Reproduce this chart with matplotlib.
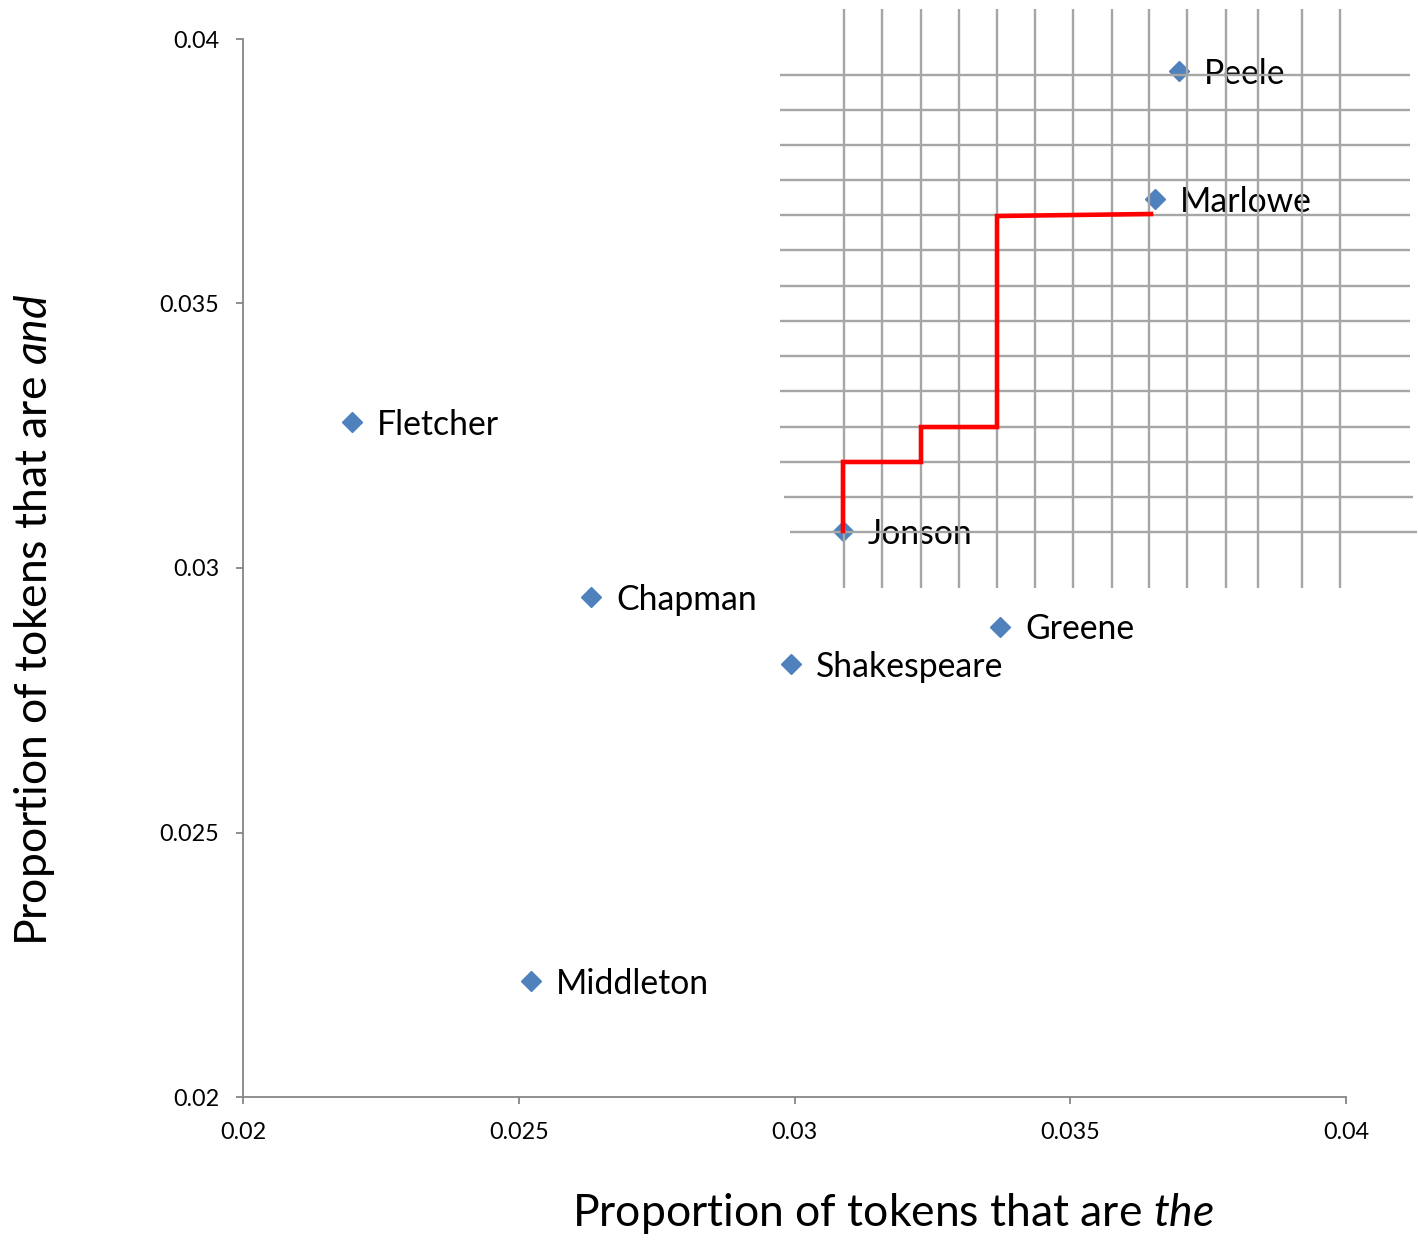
import matplotlib
matplotlib.use("Agg")
import matplotlib.pyplot as plt

plt.rcParams['font.family'] = ['Lato', 'DejaVu Sans']
plt.rcParams['mathtext.fontset'] = 'custom'
plt.rcParams['mathtext.rm'] = 'Lato'
plt.rcParams['mathtext.it'] = 'Lato:italic'

# ---- data ----
authors = ["Fletcher", "Chapman", "Shakespeare", "Greene", "Middleton",
           "Jonson", "Marlowe", "Peele"]
prop_the = [0.02198, 0.02631, 0.02994, 0.03373, 0.02522, 0.03088, 0.03654, 0.03697]
prop_and = [0.03276, 0.02945, 0.02819, 0.02889, 0.02219, 0.03070, 0.03698, 0.03940]

x_ticks = [0.02, 0.025, 0.03, 0.035, 0.04]
y_ticks = [0.02, 0.025, 0.03, 0.035, 0.04]
x_tick_labels = ["0.02", "0.025", "0.03", "0.035", "0.04"]
y_tick_labels = ["0.02", "0.025", "0.03", "0.035", "0.04"]

# overlay grid (data coords)
grid_x = [0.030897, 0.031586, 0.032294, 0.032983, 0.033672, 0.034361, 0.035050,
          0.035757, 0.036428, 0.037117, 0.037824, 0.038404, 0.039202, 0.039891]
grid_y = [0.039325, 0.038658, 0.037991, 0.037335, 0.036673, 0.036011, 0.035336,
          0.034675, 0.034002, 0.033352, 0.032671, 0.032009, 0.031348, 0.030686]
grid_x_span = (0.029622, 0.040567)   # vertical lines y-extent
grid_y_start = [0.029737] * 12 + [0.029810, 0.029920]
grid_y_end = [0.041160] * 12 + [0.041215, 0.041290]

# red staircase path
path_x = [0.030879, 0.030879, 0.032294, 0.032294, 0.033672, 0.033672, 0.036464]
path_y = [0.030699, 0.032004, 0.032004, 0.032665, 0.032665, 0.036654, 0.036692]

W, H = 1418, 1240
fig = plt.figure(figsize=(W / 100, H / 100), dpi=100)
ax = fig.add_axes([243 / W, 1 - 1097 / H, (1346 - 243) / W, (1097 - 39) / H])
ax.set_xlim(0.02, 0.04)
ax.set_ylim(0.02, 0.04)

ax.plot(prop_the, prop_and, linestyle='none', marker='D', markersize=10,
        color='#4F81BD', zorder=3, clip_on=False)
for name, xv, yv in zip(authors, prop_the, prop_and):
    ax.annotate(name, (xv, yv), xytext=(18, -2), textcoords='offset points',
                va='center', ha='left', fontsize=24.3, color='black', zorder=4)

# overlay grid
for gx in grid_x:
    ax.plot([gx, gx], list(grid_x_span), color='#A6A6A6', lw=1.7,
            zorder=5, clip_on=False, solid_capstyle='butt')
for gy, s, e in zip(grid_y, grid_y_start, grid_y_end):
    ax.plot([s, e], [gy, gy], color='#A6A6A6', lw=1.7,
            zorder=5, clip_on=False, solid_capstyle='butt')
ax.plot(path_x, path_y, color='#FF0000', lw=3.3, zorder=6, clip_on=False,
        solid_joinstyle='miter')

# axes styling
for s in ['top', 'right']:
    ax.spines[s].set_visible(False)
for s in ['left', 'bottom']:
    ax.spines[s].set_color('#868686')
    ax.spines[s].set_linewidth(1.3)
ax.set_xticks(x_ticks)
ax.set_xticklabels(x_tick_labels)
ax.set_yticks(y_ticks)
ax.set_yticklabels(y_tick_labels)
ax.tick_params(axis='both', direction='out', length=5, width=1.3,
               color='#868686', labelsize=16.8, labelcolor='black')
ax.tick_params(axis='y', pad=12)
ax.tick_params(axis='x', pad=13)

fig.text(893 / W, 1 - 1213 / H, r"Proportion of tokens that are $\it{the}$",
         ha='center', va='center', fontsize=32)
fig.text(35 / W, 1 - 620 / H, r"Proportion of tokens that are $\it{and}$",
         ha='center', va='center', fontsize=32, rotation=90)

fig.savefig("out.png", dpi=100, facecolor='white')
